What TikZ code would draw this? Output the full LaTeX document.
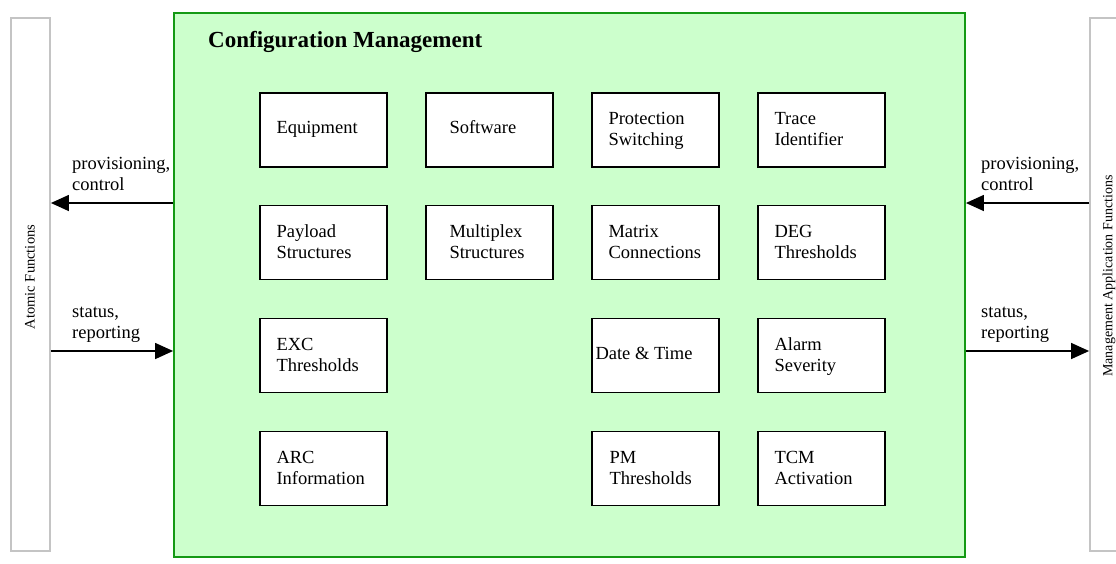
\documentclass[tikz,border=0pt]{standalone}
\usepackage{fontspec}
\setmainfont{Liberation Serif}
\usetikzlibrary{arrows.meta}
\definecolor{cmfill}{HTML}{CCFFCC}
\definecolor{cmedge}{HTML}{149914}
\definecolor{sideedge}{HTML}{C4C4C4}

\begin{document}
\begin{tikzpicture}[x=1pt,y=-1pt,
  sidebox/.style={draw=sideedge, line width=1.8pt, fill=white, inner sep=0pt},
  sidelabel/.style={font=\fontsize{14.5}{17}\selectfont, rotate=90, inner sep=0pt},
  cmframe/.style={draw=cmedge, line width=1.8pt, fill=cmfill, inner sep=0pt,
    minimum width=791pt, minimum height=544pt},
  fnbox/.style={draw=black, line width=1.4pt, fill=white, inner sep=0pt,
    minimum width=127pt, minimum height=74pt},
  fntext/.style={font=\fontsize{18.5}{21.3}\selectfont, align=left,
    inner sep=0pt, anchor=west},
  flowtext/.style={font=\fontsize{18.5}{21.3}\selectfont, align=left,
    inner sep=0pt, anchor=west},
  flow/.style={line width=1.4pt, -{Triangle[length=18pt,width=16pt]}}]

\useasboundingbox (0,0) rectangle (1116,563);
\clip (0,0) rectangle (1116,563);

% peripheral blocks
\node[sidebox, minimum width=39pt, minimum height=533pt] (af) at (30.5,284.5) {};
\node[sidelabel] (afT) at (30,277) {Atomic Functions};
\node[sidebox, minimum width=40pt, minimum height=533pt] (maf) at (1110,284.5) {};
\node[sidelabel, font=\fontsize{14}{17}\selectfont] (mafT) at (1109,276) {Management Application Functions};

% configuration management block
\node[cmframe] (cm) at (569.5,285) {};
\node[font=\fontsize{23}{27}\selectfont\bfseries, anchor=base west, inner sep=0pt]
  (cmtitle) at (208,47) {Configuration Management};

% function boxes
\node[fnbox] (equip) at (323.5,130)   {};
\node[fnbox] (soft)  at (489.5,130)   {};
\node[fnbox] (prot)  at (655.5,130)   {};
\node[fnbox] (trace) at (821.5,130)   {};
\node[fnbox] (pay)   at (323.5,242.5) {};
\node[fnbox] (mux)   at (489.5,242.5) {};
\node[fnbox] (matx)  at (655.5,242.5) {};
\node[fnbox] (deg)   at (821.5,242.5) {};
\node[fnbox] (exc)   at (323.5,355.5) {};
\node[fnbox] (date)  at (655.5,355.5) {};
\node[fnbox] (alarm) at (821.5,355.5) {};
\node[fnbox] (arc)   at (323.5,468.5) {};
\node[fnbox] (pm)    at (655.5,468.5) {};
\node[fnbox] (tcm)   at (821.5,468.5) {};

\node[fntext] (equipT) at ([xshift=17pt,yshift=1pt]equip.west) {\strut Equipment};
\node[fntext] (softT)  at ([xshift=24pt,yshift=1pt]soft.west)  {\strut Software};
\node[fntext] (protT)  at ([xshift=17pt,yshift=-1pt]prot.west)  {\strut Protection\\\strut Switching};
\node[fntext] (traceT) at ([xshift=17pt,yshift=-1pt]trace.west) {\strut Trace\\\strut Identifier};
\node[fntext] (payT)   at ([xshift=17pt,yshift=-1pt]pay.west)   {\strut Payload\\\strut Structures};
\node[fntext] (muxT)   at ([xshift=24pt,yshift=-1pt]mux.west)   {\strut Multiplex\\\strut Structures};
\node[fntext] (matxT)  at ([xshift=17pt,yshift=-1pt]matx.west)  {\strut Matrix\\\strut Connections};
\node[fntext] (degT)   at ([xshift=17pt,yshift=-1pt]deg.west)   {\strut DEG\\\strut Thresholds};
\node[fntext] (excT)   at ([xshift=17pt,yshift=-1pt]exc.west)   {\strut EXC\\\strut Thresholds};
\node[fntext] (dateT)  at ([xshift=4pt]date.west)  {\strut Date \& Time};
\node[fntext] (alarmT) at ([xshift=17pt,yshift=-1pt]alarm.west) {\strut Alarm\\\strut Severity};
\node[fntext] (arcT)   at ([xshift=17pt,yshift=-1pt]arc.west)   {\strut ARC\\\strut Information};
\node[fntext] (pmT)    at ([xshift=18pt,yshift=-1pt]pm.west)    {\strut PM\\\strut Thresholds};
\node[fntext] (tcmT)   at ([xshift=17pt,yshift=-1pt]tcm.west)   {\strut TCM\\\strut Activation};

% information flows
\coordinate (provY) at (0,203);
\coordinate (statY) at (0,351);

\draw[flow] (cm.west |- provY) -- (af.east |- provY);
\draw[flow] (af.east |- statY) -- (cm.west |- statY);
\draw[flow] (maf.west |- provY) -- (cm.east |- provY);
\draw[flow] (cm.east |- statY) -- (maf.west |- statY);

\node[flowtext] (provL) at (72,176)  {\strut provisioning,\\\strut control};
\node[flowtext] (statL) at (72,324)  {\strut status,\\\strut reporting};
\node[flowtext] (provR) at (981,176) {\strut provisioning,\\\strut control};
\node[flowtext] (statR) at (981,324) {\strut status,\\\strut reporting};

\end{tikzpicture}
\end{document}
